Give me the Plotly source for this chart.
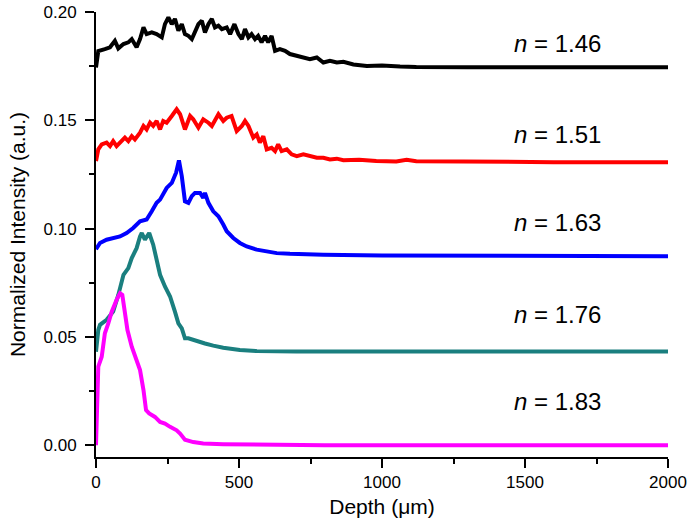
import plotly.graph_objects as go

# Depth (um) / normalized intensity pairs
black_n146 = [(0,0.1744),(8,0.182),(31,0.1829),(49,0.1837),(66,0.1867),(78,0.1832),(96,0.1852),(113,0.186),(125,0.1875),(142,0.1837),(154,0.1875),(166,0.1929),(177,0.1898),(195,0.1906),(212,0.1898),(230,0.1883),(241,0.1944),(253,0.1975),(265,0.1944),(276,0.1968),(288,0.1914),(300,0.1944),(311,0.1898),(323,0.189),(335,0.1875),(346,0.1906),(358,0.1944),(370,0.196),(381,0.1906),(393,0.1944),(405,0.1968),(416,0.1929),(428,0.1937),(440,0.1921),(457,0.1929),(469,0.1898),(484,0.1944),(498,0.1898),(510,0.1875),(521,0.1921),(533,0.1883),(544,0.1898),(556,0.1875),(567,0.189),(579,0.186),(591,0.189),(602,0.186),(614,0.189),(626,0.1821),(643,0.1829),(661,0.1821),(678,0.1806),(702,0.1798),(725,0.179),(748,0.1782),(772,0.179),(795,0.1767),(818,0.1775),(842,0.1767),(865,0.177),(900,0.1758),(947,0.1751),(1000,0.1753),(1063,0.1748),(1120,0.1746),(1300,0.1745),(1600,0.1745),(2000,0.1745)]
red_n151 = [(0,0.1312),(8,0.1366),(20,0.1389),(37,0.1397),(49,0.1381),(60,0.1404),(72,0.1381),(90,0.1404),(101,0.142),(113,0.1404),(125,0.1427),(136,0.1412),(154,0.1443),(166,0.1474),(177,0.1458),(189,0.1489),(200,0.1474),(212,0.1497),(224,0.1458),(235,0.1497),(247,0.1489),(265,0.152),(282,0.1551),(294,0.1528),(311,0.1458),(329,0.152),(340,0.1505),(358,0.1466),(375,0.1505),(393,0.1489),(405,0.1474),(428,0.1528),(445,0.1497),(457,0.1512),(474,0.152),(492,0.145),(510,0.1474),(521,0.1497),(533,0.1474),(550,0.142),(562,0.1435),(573,0.1397),(585,0.1427),(597,0.1366),(614,0.1373),(626,0.1358),(637,0.1389),(649,0.1358),(667,0.1366),(684,0.1343),(702,0.1335),(725,0.1343),(748,0.1335),(772,0.1327),(795,0.1327),(818,0.1319),(842,0.1323),(865,0.1316),(920,0.1318),(980,0.1312),(1050,0.131),(1086,0.1318),(1120,0.1311),(1300,0.1308),(1600,0.1307),(2000,0.1307)]
blue_n163 = [(0,0.0905),(14,0.0934),(37,0.0949),(60,0.0957),(84,0.0964),(107,0.098),(130,0.1003),(154,0.1034),(177,0.1042),(195,0.108),(212,0.1119),(224,0.1134),(235,0.1157),(247,0.1188),(265,0.1211),(280,0.1258),(290,0.1315),(300,0.1242),(311,0.1126),(323,0.1119),(335,0.115),(346,0.1165),(364,0.1165),(375,0.1142),(381,0.1165),(393,0.1119),(410,0.108),(428,0.1057),(445,0.1019),(457,0.0988),(480,0.0957),(503,0.0934),(527,0.0918),(562,0.0903),(597,0.0895),(632,0.0887),(678,0.0884),(737,0.088),(795,0.088),(1000,0.0876),(1300,0.0874),(2000,0.0873)]
teal_n176 = [(0,0.0432),(8,0.0532),(14,0.0556),(37,0.0579),(60,0.0617),(78,0.0694),(96,0.0787),(113,0.0818),(125,0.0864),(142,0.091),(154,0.0964),(160,0.098),(171,0.0949),(186,0.098),(200,0.0926),(212,0.0864),(224,0.0787),(241,0.0733),(259,0.0687),(276,0.0617),(288,0.0563),(300,0.054),(311,0.0494),(323,0.0494),(340,0.0486),(358,0.0481),(381,0.047),(410,0.046),(445,0.045),(503,0.044),(562,0.0435),(700,0.0433),(1000,0.0433),(2000,0.0433)]
magenta_n183 = [(0,0.0),(8,0.0363),(20,0.0409),(31,0.0517),(43,0.0563),(55,0.0617),(72,0.0671),(84,0.0702),(92,0.0694),(101,0.061),(110,0.0532),(125,0.0455),(142,0.0394),(154,0.0347),(166,0.0255),(175,0.0162),(186,0.0147),(206,0.0131),(224,0.0108),(241,0.01),(259,0.0085),(282,0.0069),(294,0.0054),(311,0.0026),(340,0.0015),(375,0.0008),(445,0.0005),(562,0.0002),(800,0.0),(2000,0.0)]

series = [black_n146, red_n151, blue_n163, teal_n176, magenta_n183]
colors = ["#000000", "#ff0000", "#0000ff", "#1a7f7f", "#ff00ff"]
labels = ["1.46", "1.51", "1.63", "1.76", "1.83"]
label_y = [0.1856, 0.1435, 0.1028, 0.0602, 0.0204]

FONT = "Liberation Sans, Arial, sans-serif"

fig = go.Figure()
for data, col in zip(series, colors):
    fig.add_trace(go.Scatter(
        x=[p[0] for p in data], y=[p[1] for p in data],
        mode="lines", line=dict(color=col, width=4),
        showlegend=False, hoverinfo="skip"))

for lab, ly in zip(labels, label_y):
    fig.add_annotation(x=1615, y=ly, xref="x", yref="y",
                       text="<i>n</i> = " + lab, showarrow=False,
                       font=dict(family=FONT, size=24, color="black"))

fig.update_layout(
    width=693, height=518,
    margin=dict(l=96, r=25, t=12, b=61),
    paper_bgcolor="white", plot_bgcolor="white",
    font=dict(family=FONT, color="black"),
)
fig.update_xaxes(
    range=[0, 2000], tickvals=[0, 500, 1000, 1500, 2000], automargin=False,
    showgrid=False, zeroline=False, showline=True, linecolor="black", linewidth=2,
    ticks="outside", ticklen=9, tickwidth=1.5, tickcolor="black",
    tickfont=dict(size=17, family=FONT),
    minor=dict(dtick=250, ticks="outside", ticklen=5, tickwidth=1.5, tickcolor="black", showgrid=False),
    title=dict(text="Depth (\u03bcm)", font=dict(size=21, family=FONT), standoff=12),
)
fig.update_yaxes(
    range=[-0.0054, 0.2], tickvals=[0, 0.05, 0.10, 0.15, 0.20], tickformat=".2f", automargin=False,
    showgrid=False, zeroline=False, showline=True, linecolor="black", linewidth=2,
    ticks="outside", ticklen=9, tickwidth=1.5, tickcolor="black", ticklabelstandoff=5,
    tickfont=dict(size=17, family=FONT),
    minor=dict(dtick=0.025, tick0=0, ticks="outside", ticklen=5, tickwidth=1.5, tickcolor="black", showgrid=False),
    title=dict(text="Normalized Intensity (a.u.)", font=dict(size=21, family=FONT), standoff=12),
)

fig.write_html("out.html", config={"displayModeBar": False},
               post_script="document.body.style.margin='0';document.body.style.overflow='hidden';")
